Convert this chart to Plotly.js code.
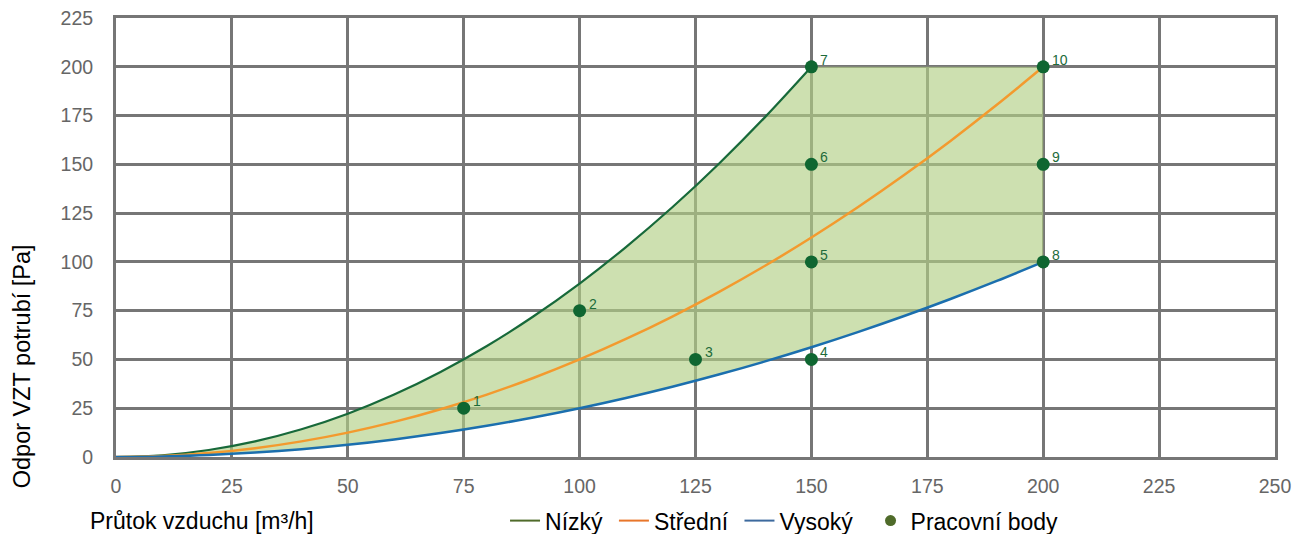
<!DOCTYPE html>
<html>
<head>
<meta charset="utf-8">
<script src="https://cdn.plot.ly/plotly-3.0.1.min.js"></script>
<style>html,body{margin:0;padding:0;background:#fff;}#chart{width:1305px;height:534px;}</style>
</head>
<body>
<div id="chart"></div>
<script>
// Nízký curve
const xLow = [0, 10, 20, 30, 40, 50, 60, 70, 80, 90, 100, 110, 120, 130, 140, 150];
const yLow = [0, 0.9, 3.6, 8, 14.2, 22.2, 32, 43.6, 56.9, 72, 88.9, 107.6, 128, 150.2, 174.2, 200];
// Střední curve
const xMid = [0, 10, 20, 30, 40, 50, 60, 70, 80, 90, 100, 110, 120, 130, 140, 150, 160, 170, 180, 190, 200];
const yMid = [0, 0.5, 2, 4.5, 8, 12.5, 18, 24.5, 32, 40.5, 50, 60.5, 72, 84.5, 98, 112.5, 128, 144.5, 162, 180.5, 200];
// Vysoký curve
const xHigh = [0, 10, 20, 30, 40, 50, 60, 70, 80, 90, 100, 110, 120, 130, 140, 150, 160, 170, 180, 190, 200];
const yHigh = [0, 0.25, 1, 2.25, 4, 6.25, 9, 12.25, 16, 20.25, 25, 30.25, 36, 42.25, 49, 56.25, 64, 72.25, 81, 90.25, 100];
// Pracovní body
const ptX = [75, 100, 125, 150, 150, 150, 150, 200, 200, 200];
const ptY = [25, 75, 50, 50, 100, 150, 200, 100, 150, 200];
const ptLabels = ["1", "2", "3", "4", "5", "6", "7", "8", "9", "10"];

const xTicks = [0, 25, 50, 75, 100, 125, 150, 175, 200, 225, 250];
const yTicks = [0, 25, 50, 75, 100, 125, 150, 175, 200, 225];

// working area polygon: low curve, top edge to (200,200), then high curve back
const areaX = xLow.concat([xHigh[xHigh.length - 1]], xHigh.slice().reverse());
const areaY = yLow.concat([yMid[yMid.length - 1]], yHigh.slice().reverse());

const FONT = "Liberation Sans, Arial, Helvetica, sans-serif";
const NB = "\u00a0";

const traces = [
  {x: areaX, y: areaY, mode: "lines", fill: "toself", fillcolor: "rgba(178,207,133,0.65)",
   line: {width: 0, color: "rgba(0,0,0,0)"}, showlegend: false, hoverinfo: "skip"},
  {x: xLow, y: yLow, mode: "lines", line: {color: "#17693a", width: 2.2, shape: "spline"}, name: "Nízký", showlegend: false},
  {x: xMid, y: yMid, mode: "lines", line: {color: "#f39a2e", width: 2.5, shape: "spline"}, name: "Střední", showlegend: false},
  {x: xHigh, y: yHigh, mode: "lines", line: {color: "#1b6fae", width: 2.5, shape: "spline"}, name: "Vysoký", showlegend: false},
  {x: ptX, y: ptY, mode: "markers", marker: {color: "#0f6631", size: 13},
   name: "Pracovní body", showlegend: false, cliponaxis: false},
  // legend entries
  {x: [null], y: [null], mode: "lines", line: {color: "#4f6b2a", width: 2}, name: "Nízký" + NB},
  {x: [null], y: [null], mode: "lines", line: {color: "#e8762a", width: 2}, name: "Střední" + NB},
  {x: [null], y: [null], mode: "lines", line: {color: "#3d6a9e", width: 2}, name: "Vysoký" + NB + NB},
  {x: [null], y: [null], mode: "markers", marker: {color: "#4f6b2a", size: 11}, name: "Pracovní body"}
];

const pointAnnotations = ptX.map((px, i) => ({
  x: px, y: ptY[i], xref: "x", yref: "y", text: ptLabels[i], showarrow: false,
  xanchor: "left", yanchor: "middle", xshift: 7, yshift: 7,
  font: {family: FONT, size: 14, color: "#1d6b3a"}
}));

const layout = {
  width: 1305, height: 534,
  margin: {l: 116, r: 30, t: 18, b: 77},
  paper_bgcolor: "#fff", plot_bgcolor: "#fff",
  font: {family: FONT, color: "#000"},
  showlegend: true,
  legend: {orientation: "h", xref: "container", yref: "container", x: 0.387, xanchor: "left",
           y: 0.025, yanchor: "middle",
           font: {family: FONT, size: 23, color: "#000"}, tracegroupgap: 0,
           bgcolor: "rgba(0,0,0,0)"},
  xaxis: {range: [0, 250], tickvals: xTicks, ticktext: xTicks.map(String), showgrid: true,
          gridcolor: "#767676", gridwidth: 3, showline: true, linecolor: "#767676", linewidth: 3,
          mirror: true, zeroline: false, ticks: "", ticklabelstandoff: 10,
          tickfont: {family: FONT, size: 19.5, color: "#666"}, fixedrange: true},
  yaxis: {range: [0, 225], tickvals: yTicks, ticktext: yTicks.map(String), showgrid: true,
          gridcolor: "#767676", gridwidth: 3, showline: true, linecolor: "#767676", linewidth: 3,
          mirror: true, zeroline: false, ticks: "", ticklabelstandoff: 16,
          tickfont: {family: FONT, size: 19.5, color: "#666"}, fixedrange: true},
  annotations: pointAnnotations.concat([
    {text: "Průtok vzduchu [m³/h]", xref: "paper", yref: "paper", x: -0.024, y: -0.146,
     xanchor: "left", yanchor: "middle", showarrow: false, font: {family: FONT, size: 23, color: "#000"}},
    {text: "Odpor VZT potrubí [Pa]", xref: "paper", yref: "paper", x: -0.081, y: 0.207,
     xanchor: "center", yanchor: "middle", textangle: -90, showarrow: false,
     font: {family: FONT, size: 23.5, color: "#000"}}
  ])
};

Plotly.newPlot("chart", traces, layout, {displayModeBar: false, staticPlot: true});
</script>
</body>
</html>
